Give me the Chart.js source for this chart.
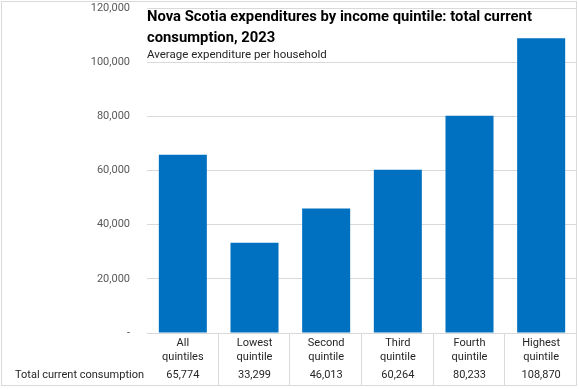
<!DOCTYPE html>
<html>
<head>
<meta charset="utf-8">
<script src="https://cdn.jsdelivr.net/npm/chart.js@4.4.1/dist/chart.umd.min.js"></script>
<style>
  html, body { margin: 0; padding: 0; background: #fff; }
</style>
</head>
<body>
<canvas id="myChart" width="579" height="389"></canvas>
<script>
const categories = [["All", "quintiles"], ["Lowest", "quintile"], ["Second", "quintile"], ["Third", "quintile"], ["Fourth", "quintile"], ["Highest", "quintile"]]
const consumption = [65774, 33299, 46013, 60264, 80233, 108870]
const yTicks = [0, 20000, 40000, 60000, 80000, 100000, 120000]
const rowLabel = "Total current consumption"
const titleLines = ["Nova Scotia expenditures by income quintile: total current", "consumption, 2023"]
const subtitle = "Average expenditure per household"

const FONT = "Roboto, 'Liberation Sans', sans-serif"
const fmt = v => v.toLocaleString('en-US')

// title, data table and outer border drawn on top of the chart
const tablePlugin = {
    id: 'tabla',
    afterDraw(chart) {
        const ctx = chart.ctx
        const area = chart.chartArea
        const x = chart.scales.x
        ctx.save()

        ctx.strokeStyle = '#d9d9d9'
        ctx.lineWidth = 1
        ctx.strokeRect(1.5, 1.5, 575, 384)

        // separators between the table columns
        ctx.beginPath()
        for (let i = 1; i <= consumption.length; i++) {
            let xp = i < consumption.length
                ? (x.getPixelForValue(i - 1) + x.getPixelForValue(i)) / 2
                : x.right
            xp = Math.round(xp) - 0.5
            ctx.moveTo(xp, area.bottom)
            ctx.lineTo(xp, 385)
        }
        ctx.stroke()

        ctx.fillStyle = '#262626'
        ctx.font = "11px " + FONT
        ctx.textBaseline = 'middle'
        ctx.textAlign = 'center'
        consumption.forEach((v, i) => {
            ctx.fillText(fmt(v), x.getPixelForValue(i), area.bottom + 42)
        })
        ctx.textAlign = 'right'
        ctx.fillText(rowLabel, area.left - 3, area.bottom + 42)

        ctx.textAlign = 'left'
        ctx.textBaseline = 'alphabetic'
        ctx.fillStyle = '#000'
        ctx.font = "bold 14.8px " + FONT
        ctx.fillText(titleLines[0], area.left, 21)
        ctx.fillText(titleLines[1], area.left, 42)
        ctx.fillStyle = '#262626'
        ctx.font = "11.5px " + FONT
        ctx.fillText(subtitle, area.left, 58)
        ctx.restore()
    }
}

const myChart = new Chart(document.getElementById('myChart'), {
    type: 'bar',
    data: {
        labels: categories,
        datasets: [{
            label: rowLabel,
            data: consumption,
            backgroundColor: '#0070C0',
            categoryPercentage: 1,
            barPercentage: 0.67
        }]
    },
    options: {
        responsive: false,
        animation: false,
        devicePixelRatio: 1,
        layout: { padding: { left: 0, right: 2, top: 8, bottom: 4 } },
        plugins: {
            legend: { display: false },
            tooltip: { enabled: false }
        },
        scales: {
            x: {
                grid: { display: false, drawTicks: false },
                border: { display: false },
                ticks: {
                    color: '#262626',
                    font: { family: FONT, size: 11, lineHeight: 1.27 },
                    padding: 3,
                    maxRotation: 0
                },
                afterFit: s => {
                    s.height = 52
                    s.paddingLeft = 0
                    s.paddingRight = 0
                }
            },
            y: {
                min: 0,
                max: 120000,
                afterBuildTicks: s => { s.ticks = yTicks.map(v => ({ value: v })) },
                grid: { color: '#d9d9d9', drawTicks: false },
                border: { display: false },
                ticks: {
                    color: '#595959',
                    font: { family: FONT, size: 11 },
                    padding: 17,
                    callback: v => v === 0 ? '-' : fmt(v)
                },
                afterFit: s => {
                    s.width = 147
                    s.paddingTop = 0
                    s.paddingBottom = 0
                }
            }
        }
    },
    plugins: [tablePlugin]
})
</script>
</body>
</html>
